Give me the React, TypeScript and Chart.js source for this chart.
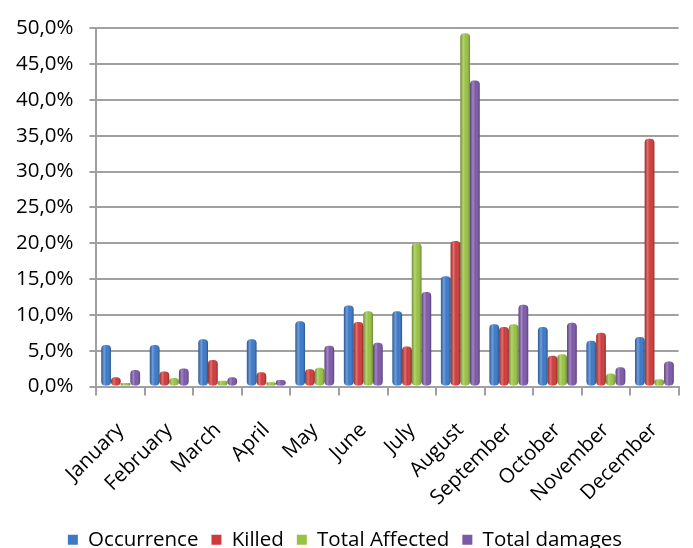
import React, { useEffect, useRef } from "react";
import { Chart, registerables } from "chart.js";

Chart.register(...registerables);

const months = ["January", "February", "March", "April", "May", "June", "July", "August", "September", "October", "November", "December"];
const occurrence = [5.8, 5.8, 6.6, 6.6, 9.1, 11.3, 10.5, 15.4, 8.7, 8.3, 6.4, 6.9];
const killed = [1.3, 2.1, 3.7, 2.0, 2.4, 9.0, 5.6, 20.3, 8.3, 4.3, 7.5, 34.6];
const totalAffected = [0.5, 1.2, 0.8, 0.6, 2.6, 10.5, 20.0, 49.3, 8.7, 4.5, 1.8, 1.0];
const totalDamages = [2.3, 2.5, 1.3, 0.9, 5.7, 6.1, 13.2, 42.7, 11.4, 8.9, 2.7, 3.5];
const seriesNames = ["Occurrence", "Killed", "Total Affected", "Total damages"];
const seriesColors = ["#3a78c8", "#d03a3a", "#98c242", "#7c58a8"];

const FONT = "'Open Sans', sans-serif";

const cylinderPlugin = {
  id: "cylinder",
  afterDatasetsDraw(chart: any) {
    const ctx = chart.ctx;
    chart.data.datasets.forEach((_: any, di: number) => {
      const meta = chart.getDatasetMeta(di);
      meta.data.forEach((el: any) => {
        const w = el.width;
        const left = el.x - w / 2;
        const top = Math.min(el.y, el.base);
        const h = Math.abs(el.base - el.y);
        if (!w || h <= 0) return;
        const g = ctx.createLinearGradient(left, 0, left + w, 0);
        g.addColorStop(0, "rgba(0,0,0,0.25)");
        g.addColorStop(0.3, "rgba(255,255,255,0.28)");
        g.addColorStop(0.55, "rgba(255,255,255,0)");
        g.addColorStop(1, "rgba(0,0,0,0.3)");
        ctx.save();
        ctx.fillStyle = g;
        ctx.beginPath();
        const r = Math.min(4, w / 2, h / 2);
        ctx.roundRect(left, top, w, h, r);
        ctx.fill();
        ctx.restore();
      });
    });
  },
};

export default function App() {
  const ref = useRef<HTMLCanvasElement>(null);
  useEffect(() => {
    const seriesData = [occurrence, killed, totalAffected, totalDamages];
    const chart = new Chart(ref.current!, {
      type: "bar",
      data: {
        labels: months,
        datasets: seriesNames.map((name, i) => ({
          label: name,
          data: seriesData[i],
          backgroundColor: seriesColors[i],
          borderWidth: 0,
          borderRadius: 4,
          borderSkipped: false,
          categoryPercentage: 0.8,
          barPercentage: 1.0,
        })),
      },
      options: {
        animation: false,
        responsive: true,
        maintainAspectRatio: false,
        layout: { padding: { left: 0, right: 3, top: 3, bottom: -12 } },
        plugins: {
          tooltip: { enabled: false },
          legend: {
            position: "bottom",
            labels: {
              font: { family: FONT, size: 20.5, lineHeight: 1.0 },
              color: "#000",
              boxWidth: 10,
              boxHeight: 10,
              padding: 13,
            },
          },
        },
        scales: {
          x: {
            afterFit: (scale: any) => {
              scale.height = 130;
            },
            grid: {
              display: true,
              drawOnChartArea: false,
              drawTicks: true,
              tickLength: 9,
              color: "#a0a0a0",
              lineWidth: 2,
              offset: true,
            },
            border: { display: true, color: "#a0a0a0", width: 2 },
            ticks: {
              minRotation: 45,
              maxRotation: 45,
              padding: 24,
              font: { family: FONT, size: 20.5, lineHeight: 1.0 },
              color: "#000",
            },
          },
          y: {
            min: 0,
            max: 50,
            ticks: {
              stepSize: 5,
              font: { family: FONT, size: 20.5 },
              color: "#000",
              padding: 16,
              callback: (v: any) => Number(v).toFixed(1).replace(".", ",") + "%",
            },
            grid: { color: "#a0a0a0", lineWidth: 2, tickLength: 7 },
            border: { display: true, color: "#a0a0a0", width: 2 },
          },
        },
      },
      plugins: [cylinderPlugin],
    });
    return () => chart.destroy();
  }, []);
  return (
    <div style={{ position: "fixed", left: 0, top: 0, width: 693, height: 548, background: "#fff" }}>
      <canvas ref={ref} />
    </div>
  );
}
